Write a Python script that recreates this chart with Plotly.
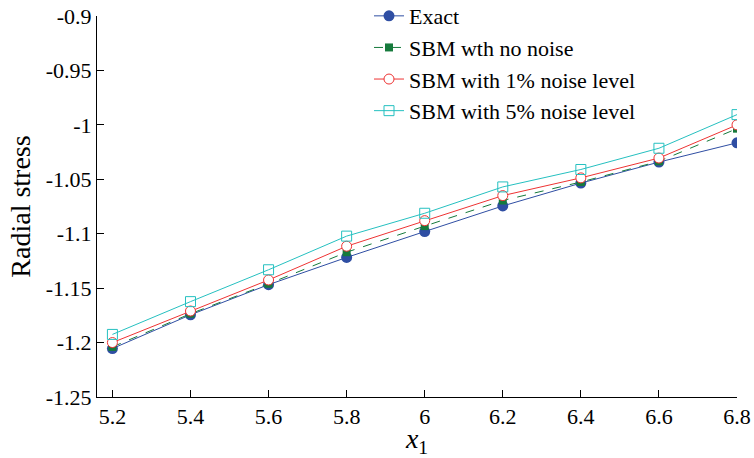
import plotly.graph_objects as go

x_vals = [5.2, 5.4, 5.6, 5.8, 6.0, 6.2, 6.4, 6.6, 6.8]
exact = [-1.2055, -1.1745, -1.1468, -1.1218, -1.098, -1.0745, -1.0535, -1.0342, -1.0165]
sbm_no_noise = [-1.204, -1.1735, -1.146, -1.117, -1.093, -1.0695, -1.0525, -1.0335, -1.0035]
sbm_1pct = [-1.2, -1.171, -1.1425, -1.1115, -1.088, -1.065, -1.0487, -1.0305, -1.0]
sbm_5pct = [-1.1925, -1.1624, -1.1331, -1.1022, -1.0812, -1.057, -1.041, -1.0215, -0.9906]

x_ticks = [5.2, 5.4, 5.6, 5.8, 6.0, 6.2, 6.4, 6.6, 6.8]
x_ticklabels = ["5.2", "5.4", "5.6", "5.8", "6", "6.2", "6.4", "6.6", "6.8"]
y_ticks = [-1.25, -1.2, -1.15, -1.1, -1.05, -1.0, -0.95, -0.9]
y_ticklabels = ["-1.25", "-1.2", "-1.15", "-1.1", "-1.05", "-1", "-0.95", "-0.9"]

FONT = "Liberation Serif"
blue = "#2f4ea3"
green = "#167a3c"
red = "#ee3333"
cyan = "#25c0c0"

fig = go.Figure()
fig.add_trace(go.Scatter(x=x_vals, y=exact, name="Exact", mode="lines+markers",
                         line=dict(color=blue, width=1),
                         marker=dict(symbol="circle", size=11, color=blue)))
fig.add_trace(go.Scatter(x=x_vals, y=sbm_no_noise, name="SBM wth no noise", mode="lines+markers",
                         line=dict(color=green, width=1, dash="dash"),
                         marker=dict(symbol="square", size=8, color=green)))
fig.add_trace(go.Scatter(x=x_vals, y=sbm_1pct, name="SBM with 1% noise level", mode="lines+markers",
                         line=dict(color=red, width=1),
                         marker=dict(symbol="circle", size=10, color="white",
                                     line=dict(color=red, width=1))))
fig.add_trace(go.Scatter(x=x_vals, y=sbm_5pct, name="SBM with 5% noise level", mode="lines+markers",
                         line=dict(color=cyan, width=1),
                         marker=dict(symbol="square-open", size=10, color=cyan,
                                     line=dict(color=cyan, width=1))))

fig.update_layout(
    width=754, height=458,
    margin=dict(l=97, r=17, t=16, b=61, autoexpand=False),
    paper_bgcolor="white", plot_bgcolor="white",
    font=dict(family=FONT, color="black", size=22),
    showlegend=True,
    legend=dict(x=0.425, y=1.055, xanchor="left", yanchor="top",
                bgcolor="rgba(0,0,0,0)", font=dict(family=FONT, size=22),
                itemwidth=30, tracegroupgap=0),
    xaxis=dict(range=[5.1605, 6.8], tickvals=x_ticks, ticktext=x_ticklabels,
               showline=True, linecolor="black", linewidth=1, mirror=False,
               ticks="inside", ticklen=7, tickcolor="black", showgrid=False, zeroline=False,
               tickfont=dict(family=FONT, size=22), ticklabeloverflow="allow",
               title=dict(text="<i>x</i><sub>1</sub>", font=dict(family=FONT, size=28), standoff=0)),
    yaxis=dict(range=[-1.25, -0.9], tickvals=y_ticks, ticktext=y_ticklabels,
               showline=True, linecolor="black", linewidth=1, mirror=False,
               ticks="inside", ticklen=7, tickcolor="black", showgrid=False, zeroline=False,
               tickfont=dict(family=FONT, size=22), ticklabeloverflow="allow",
               title=dict(text="Radial stress", font=dict(family=FONT, size=28), standoff=6)),
)

fig.write_html("out.html", config={"displayModeBar": False},
               post_script="document.body.style.margin='0';")
